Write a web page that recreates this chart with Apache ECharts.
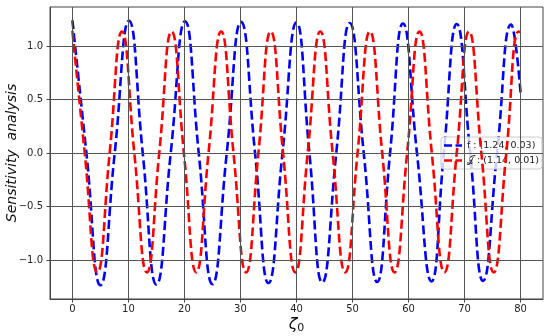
<!DOCTYPE html>
<html>
<head>
<meta charset="utf-8">
<script src="https://cdn.jsdelivr.net/npm/echarts@6/dist/echarts.min.js"></script>
<style>html,body{margin:0;padding:0;background:#fff}#c{width:550px;height:336px}</style>
</head>
<body>
<div id="c"></div>
<script>
// Tick labels
var xTicks = [0, 10, 20, 30, 40, 50, 60, 70, 80];
var yTicks = [-1.0, -0.5, 0.0, 0.5, 1.0];

// Series f (blue): extrema and zero crossings
var fX = [0, 2.5, 5.0, 7.55, 10.1, 12.55, 15.0, 17.55, 20.1, 22.55, 25.0, 27.55, 30.1, 32.6, 35.0, 37.5, 40.0, 42.3, 44.6, 47.1, 49.5, 52.0, 54.4, 56.7, 59.0, 61.5, 64.1, 66.3, 68.6, 71.0, 73.3, 75.8, 78.3, 80];
var fY = [1.24, 0, -1.235, 0, 1.235, 0, -1.23, 0, 1.23, 0, -1.225, 0, 1.225, 0, -1.215, 0, 1.22, 0, -1.21, 0, 1.215, 0, -1.205, 0, 1.21, 0, -1.20, 0, 1.205, 0, -1.195, 0, 1.20, 0.56];

// Series J (red)
var jX = [0, 2.2, 4.45, 6.65, 8.85, 11.05, 13.3, 15.5, 17.7, 19.9, 22.1, 24.3, 26.55, 28.75, 31.0, 33.2, 35.4, 37.6, 39.8, 42.0, 44.25, 46.45, 48.7, 50.9, 53.1, 55.3, 57.5, 59.75, 61.95, 64.15, 66.4, 68.6, 70.8, 73.0, 75.2, 77.45, 79.65, 80];
var jY = [1.14, 0, -1.115, 0, 1.135, 0, -1.115, 0, 1.135, 0, -1.115, 0, 1.135, 0, -1.115, 0, 1.135, 0, -1.115, 0, 1.135, 0, -1.115, 0, 1.135, 0, -1.115, 0, 1.135, 0, -1.115, 0, 1.135, 0, -1.115, 0, 1.135, 1.13];

var fName = 'f : (1.24, 0.03)';
var jName = '\uD835\uDCA5 : (1.14, 0.01)';

function pairs(xs, ys) { return xs.map(function (x, i) { return [x, ys[i]]; }); }

var gridMarks = xTicks.map(function (v) { return { xAxis: v }; })
  .concat(yTicks.map(function (v) { return { yAxis: v }; }));

var dashIcon = 'path://M0,0h8v2.6h-8z M11.5,0h6.5v2.6h-6.5z';
var font = 'DejaVu Sans';
var chart = echarts.init(document.getElementById('c'), null, { renderer: 'canvas' });
chart.setOption({
  animation: false,
  backgroundColor: '#fff',
  grid: { left: 50, right: 7, top: 7, bottom: 37, containLabel: false, outerBoundsMode: 'none',
    show: true, borderColor: '#444', borderWidth: 1, backgroundColor: 'transparent' },
  xAxis: {
    type: 'value', min: -4, max: 84,
    name: '{z|\u03B6}{s|0}', nameLocation: 'middle', nameGap: 16, nameMoveOverlap: false,
    nameTextStyle: { verticalAlign: 'top', rich: { z: { fontSize: 16, fontFamily: font, fontStyle: 'italic', color: '#111' }, s: { fontSize: 11, fontFamily: font, color: '#111', padding: [8, 0, 0, 0] } } },
    axisLine: { show: true, onZero: false, lineStyle: { color: '#444', width: 1 } },
    axisTick: { show: true, length: 3.5, customValues: xTicks, lineStyle: { color: '#444' } },
    axisLabel: { customValues: xTicks, margin: 5, fontSize: 10, fontFamily: font, color: '#222' },
    splitLine: { show: false }
  },
  yAxis: {
    type: 'value', min: -1.364, max: 1.364,
    name: 'Sensitivity  analysis', nameLocation: 'middle', nameGap: 31, nameRotate: 90, nameMoveOverlap: false,
    nameTextStyle: { fontSize: 14, fontFamily: font, fontStyle: 'italic', color: '#111' },
    axisLine: { show: true, onZero: false, lineStyle: { color: '#444', width: 1 } },
    axisTick: { show: true, length: 3.5, customValues: yTicks, lineStyle: { color: '#444' } },
    axisLabel: { customValues: yTicks, margin: 7, fontSize: 10, fontFamily: font, color: '#222',
      formatter: function (v) { return (v < 0 ? '\u2212' : '') + Math.abs(v).toFixed(1); } },
    splitLine: { show: false }
  },
  legend: {
    orient: 'vertical', left: 441, top: 137,
    data: [{ name: fName, icon: dashIcon }, { name: jName, icon: dashIcon }],
    itemWidth: 18, itemHeight: 2.6, itemGap: 4,
    padding: [3, 3, 3, 3],
    backgroundColor: 'rgba(255,255,255,0.8)', borderColor: '#ccc', borderWidth: 1, borderRadius: 3,
    textStyle: { fontSize: 9.5, fontFamily: font, color: '#222', lineHeight: 11 }
  },
  series: [
    {
      type: 'line', data: [], silent: true, z: 1, symbol: 'none',
      markLine: { silent: true, symbol: 'none', label: { show: false }, animation: false,
        lineStyle: { color: '#555', width: 1, type: 'solid' }, data: gridMarks }
    },
    {
      name: fName, type: 'line', data: pairs(fX, fY), smooth: true, symbol: 'none', z: 3,
      lineStyle: { color: '#0000ff', width: 2.6, type: [9, 4] }, itemStyle: { color: '#0000ff' }
    },
    {
      name: jName, type: 'line', data: pairs(jX, jY), smooth: true, symbol: 'none', z: 4,
      lineStyle: { color: '#ff0000', width: 2.6, type: [9, 4] }, itemStyle: { color: '#ff0000' }
    }
  ]
});
</script>
</body>
</html>
